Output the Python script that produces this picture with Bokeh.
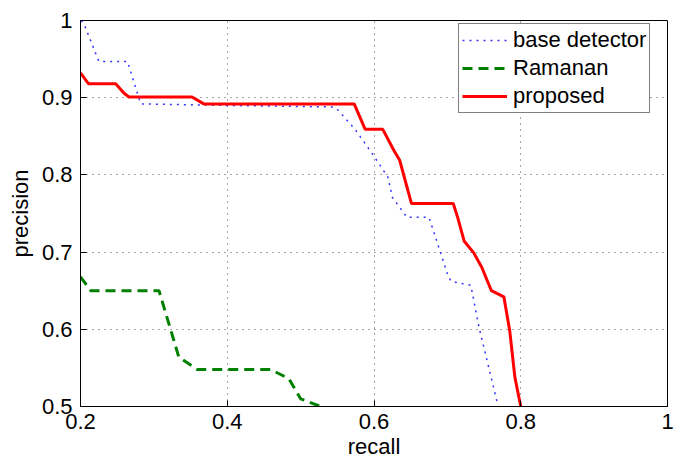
from bokeh.plotting import figure
from bokeh.models import Legend, LegendItem, FixedTicker, Range1d, Title
from bokeh.embed import file_html
from bokeh.resources import INLINE

# base detector (blue dotted)
base_recall = [0.201, 0.205, 0.225, 0.264, 0.282, 0.40, 0.545, 0.552, 0.575, 0.598, 0.619, 0.625,
               0.645, 0.675, 0.700, 0.705, 0.732, 0.743, 0.769]
base_precision = [1.0, 0.995, 0.947, 0.947, 0.892, 0.890, 0.888, 0.883, 0.858, 0.827, 0.797, 0.771,
                  0.745, 0.745, 0.672, 0.662, 0.657, 0.603, 0.501]

# Ramanan (green dashed)
ram_recall = [0.200, 0.214, 0.307, 0.334, 0.359, 0.459, 0.484, 0.500, 0.527]
ram_precision = [0.668, 0.650, 0.650, 0.564, 0.548, 0.548, 0.536, 0.510, 0.500]

# proposed (red solid)
prop_recall = [0.200, 0.211, 0.248, 0.259, 0.266, 0.352, 0.368, 0.573, 0.588, 0.612, 0.627, 0.635,
               0.651, 0.708, 0.714, 0.723, 0.736, 0.747, 0.760, 0.777, 0.785, 0.792, 0.800]
prop_precision = [0.932, 0.918, 0.918, 0.906, 0.901, 0.901, 0.892, 0.892, 0.859, 0.859, 0.832, 0.819,
                  0.763, 0.763, 0.745, 0.714, 0.699, 0.680, 0.650, 0.642, 0.598, 0.538, 0.500]

x_ticks = [0.2, 0.4, 0.6, 0.8, 1.0]
x_tick_labels = ["0.2", "0.4", "0.6", "0.8", "1"]
y_ticks = [0.5, 0.6, 0.7, 0.8, 0.9, 1.0]
y_tick_labels = ["0.5", "0.6", "0.7", "0.8", "0.9", "1"]
x_title = "recall"
y_title = "precision"

FONT = "Liberation Sans"

p = figure(width=674, height=465, output_backend="svg", toolbar_location=None,
           x_range=Range1d(0.2, 1.0), y_range=Range1d(0.5, 1.0),
           min_border_left=80, min_border_right=7, min_border_top=20, min_border_bottom=59)
p.background_fill_color = "white"
p.border_fill_color = "white"
p.outline_line_color = "black"
p.outline_line_width = 1

r_base = p.line(base_recall, base_precision, line_color="#3333ff", line_width=1.5, line_dash="2 5")
r_ram = p.line(ram_recall, ram_precision, line_color="#008000", line_width=3, line_dash="10 6")
r_prop = p.line(prop_recall, prop_precision, line_color="#ff0000", line_width=3)

for ax, ticks, labels in ((p.xaxis, x_ticks, x_tick_labels), (p.yaxis, y_ticks, y_tick_labels)):
    ax.ticker = FixedTicker(ticks=ticks)
    ax.major_label_overrides = {t: l for t, l in zip(ticks, labels)}
    ax.major_label_text_font = FONT
    ax.major_label_text_font_size = "22px"
    ax.major_label_text_color = "black"
    ax.axis_label_text_font = FONT
    ax.axis_label_text_font_size = "22px"
    ax.axis_label_text_font_style = "normal"
    ax.axis_label_text_color = "black"
    ax.major_tick_in = 6
    ax.major_tick_out = 0
    ax.minor_tick_in = 0
    ax.minor_tick_out = 0
    ax.axis_line_color = "black"
    ax.major_tick_line_color = "black"

p.yaxis.axis_label = y_title
p.xaxis.major_label_standoff = 7
p.yaxis.major_label_standoff = 8
p.yaxis.axis_label_standoff = 6

# x-axis title as a title in the lower panel, below the tick labels
p.add_layout(Title(text=x_title, align="center", text_font=FONT, text_font_size="22px",
                   text_font_style="normal", text_color="black", standoff=1, offset=0),
             "below")

p.grid.grid_line_color = "black"
p.grid.grid_line_alpha = 0.7
p.grid.grid_line_dash = "1 5"
p.grid.grid_line_width = 1

legend = Legend(items=[
    LegendItem(label="base detector", renderers=[r_base]),
    LegendItem(label="Ramanan", renderers=[r_ram]),
    LegendItem(label="proposed", renderers=[r_prop]),
], location=(378, 293))
legend.label_text_font = FONT
legend.label_text_font_size = "22px"
legend.label_text_color = "black"
legend.border_line_color = "black"
legend.border_line_width = 1
legend.background_fill_color = "white"
legend.background_fill_alpha = 1
legend.glyph_width = 45
legend.glyph_height = 20
legend.label_height = 20
legend.spacing = 2
legend.padding = 3
legend.margin = 0
legend.label_standoff = 6
p.add_layout(legend)

open("out.html", "w").write(file_html(p, INLINE))
